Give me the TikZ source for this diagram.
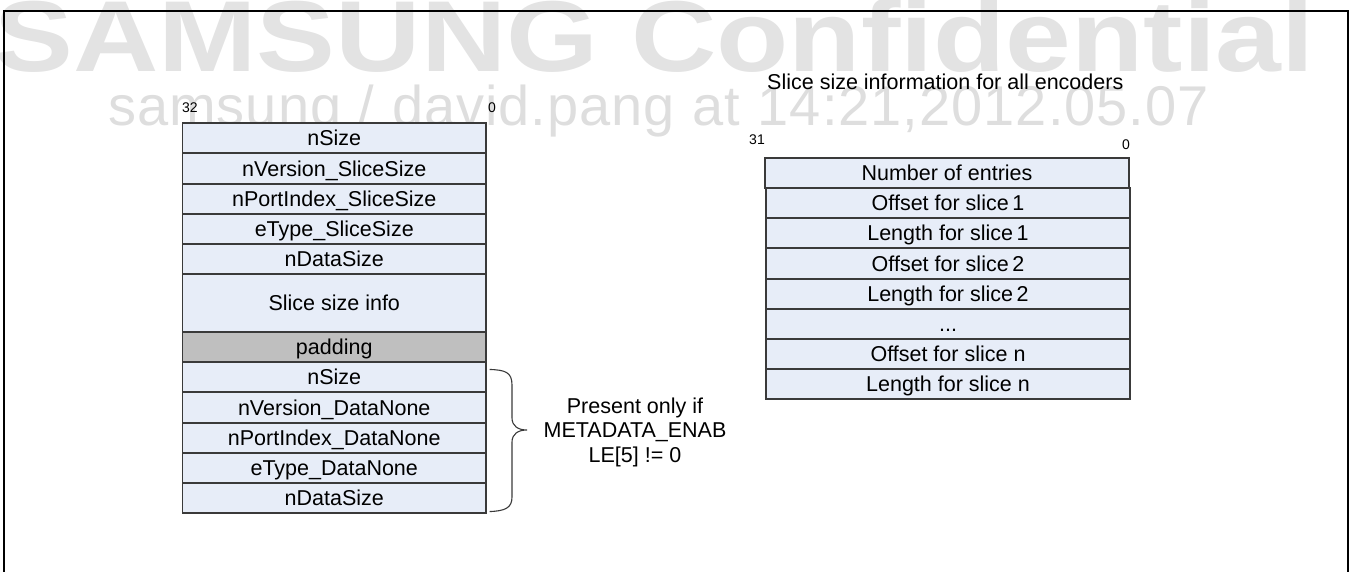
\documentclass[tikz,border=0pt]{standalone}
\usepackage{fontspec}
\setmainfont{Liberation Sans}
\usepackage{graphicx}
\definecolor{cellfill}{HTML}{E7EDF8}
\definecolor{padfill}{HTML}{BFBFBF}
\definecolor{cellborder}{HTML}{3A3A3A}
\definecolor{wmA}{HTML}{E3E3E3}
\definecolor{wmB}{HTML}{DEDEDE}
\newdimen\spreadamt
\spreadamt=1pt
\let\spreadend\relax
\def\spreadtext#1{\spreadA#1\spreadend}
\def\spreadA#1{\ifx#1\spreadend\else#1\kern\spreadamt\expandafter\spreadA\fi}
\begin{document}
\begin{tikzpicture}[x=1pt,y=-1pt,
  cell/.style={draw=cellborder, line width=1.1pt, fill=cellfill, inner sep=0pt,
    minimum height=30pt, text height=15.4pt, text depth=0pt,
    font=\fontsize{21.5}{24.5}\selectfont},
  lcell/.style={cell, minimum width=303.5pt},
  rcell/.style={cell, minimum width=364pt},
  bitlabel/.style={inner sep=0pt, font=\fontsize{14}{14}\selectfont},
  plain/.style={inner sep=0pt, font=\fontsize{21.5}{24.5}\selectfont},
  frameline/.style={line width=2pt, black},
  bracestyle/.style={draw=cellborder, line width=1.1pt}]
\useasboundingbox (0,0) rectangle (1354,572);
% watermark
\node[anchor=base west, inner sep=0pt, text=wmA] (wm1) at (-6,72)
  {\resizebox{1320pt}{73pt}{\bfseries SAMSUNG Confidential}};
\node[anchor=base west, inner sep=0pt, text=wmB, font=\fontsize{56}{56}\selectfont] (wm2) at (108,126)
  {\spreadtext{samsung~/~david.pang~at~14:21,2012.05.07}};
% frame
\draw[frameline] (4,580) -- (4,11) -- (1348,11) -- (1348,580);
% left stack
\node[bitlabel] (b32) at (190,108) {32};
\node[bitlabel] (b0l) at (492,108) {0};
\node[lcell] (l1) at (334.25,138) {nSize};
\node[lcell, minimum height=31pt] (l2) at (334.25,168.5) {nVersion\_SliceSize};
\node[lcell] (l3) at (334.25,199) {nPortIndex\_SliceSize};
\node[lcell] (l4) at (334.25,229) {eType\_SliceSize};
\node[lcell] (l5) at (334.25,259) {nDataSize};
\node[lcell, minimum height=58pt] (l6) at (334.25,303) {Slice size info};
\node[lcell, fill=padfill] (l7) at (334.25,347) {padding};
\node[lcell] (l8) at (334.25,377) {nSize};
\node[lcell, minimum height=31pt] (l9) at (334.25,407.5) {nVersion\_DataNone};
\node[lcell] (l10) at (334.25,438) {nPortIndex\_DataNone};
\node[lcell] (l11) at (334.25,468) {eType\_DataNone};
\node[lcell] (l12) at (334.25,498) {nDataSize};
% brace
\coordinate (bt) at ([xshift=3pt,yshift=-8pt]l8.north east);
\coordinate (bb) at ([xshift=3pt,yshift=2pt]l12.south east);
\draw[bracestyle] (bt) .. controls (505,370) and (512,372) .. (512,385) -- (512,418)
  .. controls (512,426) and (518,430) .. (527,430)
  .. controls (518,430) and (512,434) .. (512,442) -- (512,497)
  .. controls (512,508) and (505,511) .. (bb);
\node[plain, align=center] (cond) at (635,432) {Present only if\\METADATA\_ENAB\\LE[5] != 0};
% right stack
\node[plain, anchor=base west] (title) at (767,90) {Slice size information for all encoders};
\node[bitlabel] (b31) at (757,140) {31};
\node[bitlabel] (b0r) at (1126,145) {0};
\node[rcell] (r1) at (947,173) {Number of entries};
\node[rcell] (r2) at (948,203) {Offset for slice\,1};
\node[rcell] (r3) at (948,233) {Length for slice\,1};
\node[rcell, minimum height=31pt] (r4) at (948,263.5) {Offset for slice\,2};
\node[rcell] (r5) at (948,294) {Length for slice\,2};
\node[rcell] (r6) at (948,324) {...};
\node[rcell] (r7) at (948,354) {Offset for slice n};
\node[rcell] (r8) at (948,384) {Length for slice n};
\end{tikzpicture}
\end{document}
